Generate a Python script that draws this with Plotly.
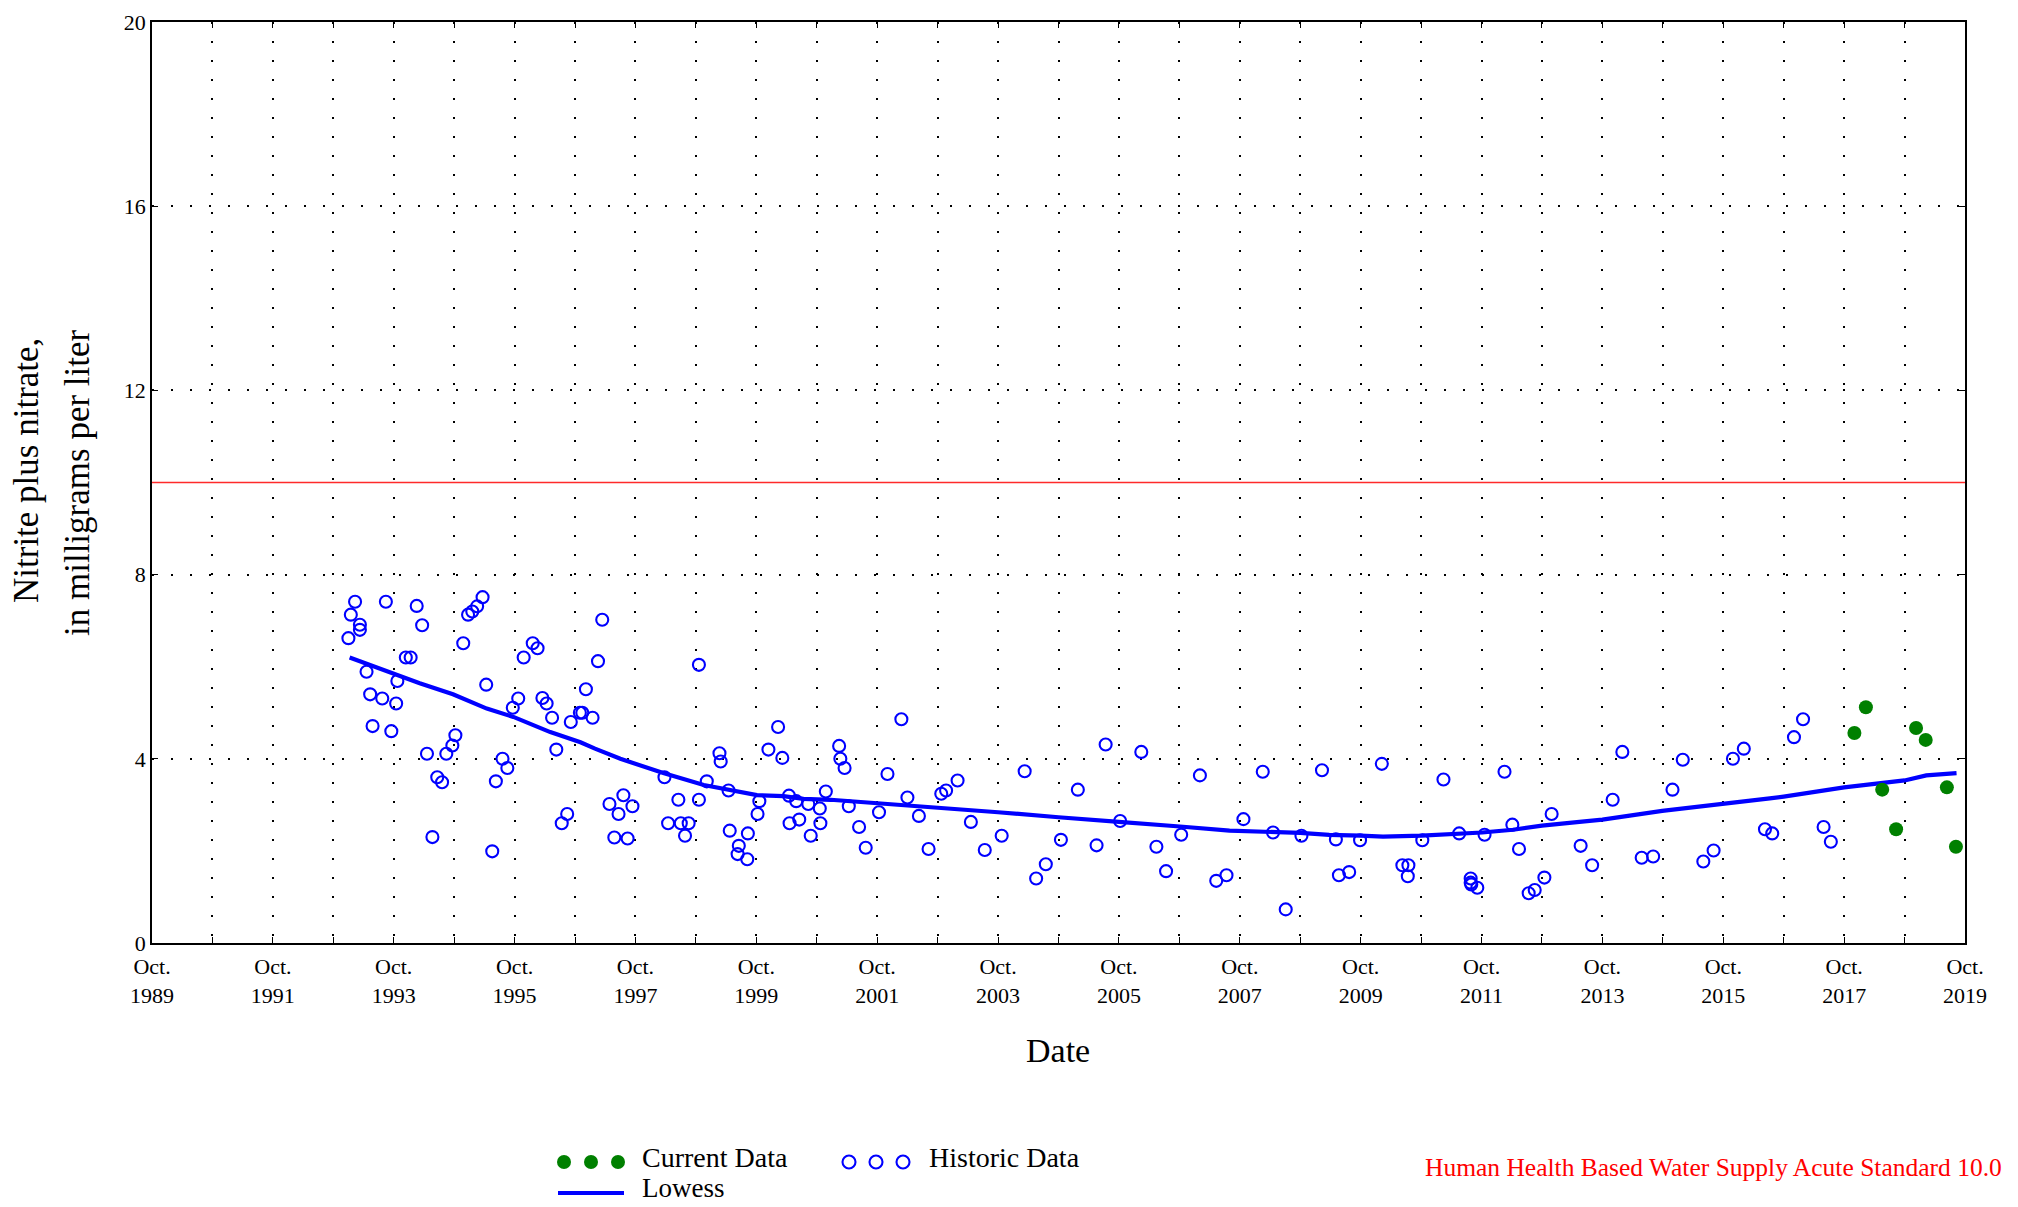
import plotly.graph_objects as go

# ---------------- data (decimal years, mg/L) ----------------
hist_t = [1993.00, 1993.04, 1993.11, 1993.19, 1993.19, 1993.30, 1993.36, 1993.40, 1993.56, 1993.62,
          1993.71, 1993.79, 1993.81, 1993.95, 1994.03, 1994.13, 1994.22, 1994.30, 1994.39, 1994.47,
          1994.55, 1994.62, 1994.72, 1994.77, 1994.90, 1994.98, 1995.05, 1995.13, 1995.22, 1995.28,
          1995.38, 1995.44, 1995.55, 1995.63, 1995.72, 1995.81, 1995.90, 1996.05, 1996.13, 1996.21,
          1996.28, 1996.37, 1996.44, 1996.53, 1996.62, 1996.68, 1996.83, 1996.87, 1996.93, 1997.04,
          1997.13, 1997.20, 1997.32, 1997.40, 1997.47, 1997.55, 1997.62, 1997.70, 1998.23, 1998.29,
          1998.46, 1998.50, 1998.57, 1998.63, 1998.80, 1998.80, 1998.93, 1999.14, 1999.16, 1999.29,
          1999.31, 1999.44, 1999.46, 1999.60, 1999.61, 1999.77, 1999.80, 1999.95, 2000.11, 2000.18,
          2000.29, 2000.30, 2000.41, 2000.46, 2000.61, 2000.65, 2000.80, 2000.81, 2000.90, 2001.12,
          2001.14, 2001.21, 2001.28, 2001.45, 2001.56, 2001.78, 2001.92, 2002.15, 2002.25, 2002.44,
          2002.60, 2002.81, 2002.89, 2003.08, 2003.30, 2003.53, 2003.81, 2004.19, 2004.38, 2004.54,
          2004.79, 2005.07, 2005.38, 2005.53, 2005.77, 2006.12, 2006.37, 2006.53, 2006.78, 2007.09,
          2007.36, 2007.53, 2007.81, 2008.13, 2008.30, 2008.51, 2008.77, 2009.11, 2009.34, 2009.39,
          2009.56, 2009.74, 2010.10, 2010.44, 2010.54, 2010.53, 2010.77, 2011.12, 2011.38, 2011.57,
          2011.57, 2011.58, 2011.68, 2011.80, 2012.13, 2012.26, 2012.37, 2012.53, 2012.63, 2012.79,
          2012.91, 2013.39, 2013.58, 2013.92, 2014.08, 2014.40, 2014.59, 2014.91, 2015.08, 2015.42,
          2015.59, 2015.91, 2016.09, 2016.44, 2016.56, 2016.92, 2017.07, 2017.41, 2017.53]
hist_v = [6.62, 7.13, 7.41, 6.91, 6.80, 5.89, 5.40, 4.71, 5.31, 7.41,
          4.60, 5.20, 5.69, 6.20, 6.20, 7.32, 6.90, 4.11, 2.30, 3.60,
          3.49, 4.11, 4.29, 4.51, 6.51, 7.13, 7.20, 7.31, 7.51, 5.61,
          1.99, 3.51, 4.00, 3.80, 5.11, 5.31, 6.20, 6.51, 6.40, 5.32,
          5.20, 4.89, 4.20, 2.60, 2.80, 4.80, 5.00, 5.00, 5.51, 4.89,
          6.12, 7.02, 3.02, 2.29, 2.80, 3.21, 2.27, 2.97, 3.60, 2.60,
          3.11, 2.60, 2.33, 2.60, 6.04, 3.11, 3.51, 4.12, 3.94, 3.31,
          2.44, 1.93, 2.11, 1.82, 2.38, 2.80, 3.08, 4.20, 4.69, 4.02,
          3.20, 2.60, 3.08, 2.68, 3.02, 2.33, 2.92, 2.60, 3.29, 4.28,
          4.00, 3.80, 2.97, 2.52, 2.07, 2.84, 3.67, 4.86, 3.16, 2.76,
          2.04, 3.24, 3.31, 3.53, 2.63, 2.02, 2.33, 3.73, 1.40, 1.71,
          2.24, 3.33, 2.12, 4.31, 2.65, 4.15, 2.09, 1.56, 2.35, 3.64,
          1.35, 1.47, 2.69, 3.72, 2.40, 0.73, 2.33, 3.75, 2.25, 1.47,
          1.54, 2.23, 3.89, 1.69, 1.69, 1.45, 2.23, 3.55, 2.38, 1.40,
          1.31, 1.27, 1.20, 2.35, 3.72, 2.57, 2.04, 1.08, 1.15, 1.42,
          2.80, 2.11, 1.69, 3.11, 4.15, 1.85, 1.88, 3.33, 3.98, 1.77,
          2.01, 4.00, 4.22, 2.47, 2.38, 4.47, 4.86, 2.52, 2.20]

cur_t = [2017.92, 2018.11, 2018.38, 2018.61, 2018.94, 2019.10, 2019.45, 2019.60]
cur_v = [4.56, 5.12, 3.33, 2.47, 4.67, 4.41, 3.38, 2.09]

lowess_t = [1993.02, 1993.35, 1993.79, 1994.18, 1994.73, 1995.29, 1995.73, 1996.34, 1996.84, 1997.08,
            1997.50, 1998.21, 1998.88, 1999.32, 1999.76, 2000.20, 2000.53, 2000.98, 2001.75, 2002.75,
            2003.75, 2004.75, 2005.10, 2005.75, 2006.76, 2007.58, 2008.75, 2009.23, 2009.75, 2010.12,
            2010.76, 2011.76, 2012.27, 2012.75, 2013.37, 2013.75, 2014.74, 2015.76, 2015.97, 2016.52,
            2016.75, 2017.07, 2017.45, 2017.75, 2018.75, 2019.11, 2019.61]
lowess_v = [6.20, 6.04, 5.83, 5.64, 5.40, 5.09, 4.91, 4.58, 4.36, 4.22,
            4.00, 3.69, 3.43, 3.31, 3.21, 3.19, 3.13, 3.11, 3.04, 2.93,
            2.84, 2.73, 2.69, 2.63, 2.53, 2.44, 2.39, 2.35, 2.33, 2.31,
            2.33, 2.40, 2.46, 2.55, 2.63, 2.68, 2.87, 3.02, 3.04, 3.14,
            3.18, 3.24, 3.33, 3.38, 3.53, 3.64, 3.69]

STANDARD = 10.0
x_tick_vals = [1989.75 + 2 * k for k in range(16)]
x_tick_text = ["Oct.<br>%d" % (1989 + 2 * k) for k in range(16)]
x_minor_vals = [1989.75 + k for k in range(31)]
y_tick_vals = [0, 4, 8, 12, 16, 20]

# ---------------- layout helpers (screen pixels) ----------------
W, H = 2018, 1207
L, R, T, B = 152, 1965, 22, 943          # plot area
FONT = "Liberation Serif, Times New Roman, serif"


def px(xp):
    return (xp - L) / (R - L)


def py(yp):
    return (B - yp) / (B - T)


fig = go.Figure()

fig.add_hline(y=STANDARD, line=dict(color="#ff2a2a", width=1.6), layer="above")

fig.add_trace(go.Scatter(x=hist_t, y=hist_v, mode="markers", name="Historic Data",
                         marker=dict(symbol="circle-open", size=12, color="#0000ff",
                                     line=dict(width=2.1, color="#0000ff"))))
fig.add_trace(go.Scatter(x=lowess_t, y=lowess_v, mode="lines", name="Lowess",
                         line=dict(color="#0000ff", width=4.2)))
fig.add_trace(go.Scatter(x=cur_t, y=cur_v, mode="markers", name="Current Data",
                         marker=dict(symbol="circle", size=14, color="#008000",
                                     line=dict(width=0))))

grid = dict(gridcolor="black", gridwidth=1.6, griddash="2px,17px")

fig.update_xaxes(range=[1989.75, 2019.75], tickmode="array", tickvals=x_tick_vals,
                 ticktext=x_tick_text, ticks="inside", ticklen=6, tickwidth=1.3,
                 tickcolor="black", showline=True, linecolor="black", linewidth=1.6,
                 mirror="ticks", showgrid=True, zeroline=False, automargin=False,
                 ticklabelstandoff=3,
                 tickfont=dict(family=FONT, size=22, color="black"),
                 minor=dict(tickmode="array", tickvals=x_minor_vals, ticks="inside",
                            ticklen=6, tickwidth=1.3, tickcolor="black", showgrid=True,
                            **grid),
                 **grid)
fig.update_yaxes(range=[0, 20], tickmode="array", tickvals=y_tick_vals,
                 ticks="inside", ticklen=6, tickwidth=1.3, tickcolor="black",
                 showline=True, linecolor="black", linewidth=1.6, mirror="ticks",
                 showgrid=True, zeroline=False, automargin=False,
                 tickfont=dict(family=FONT, size=22, color="black"), **grid)


def note(text, x, y, size, color="black", xanchor="left", angle=0):
    return dict(text=text, x=px(x), y=py(y), xref="paper", yref="paper", showarrow=False,
                xanchor=xanchor, yanchor="middle", textangle=angle,
                font=dict(family=FONT, size=size, color=color))


annotations = [
    note("Date", 1058, 1050, 34, xanchor="center"),
    note("Nitrite plus nitrate,", 26, 471, 35, xanchor="center", angle=-90),
    note("in milligrams per liter", 77, 483, 35, xanchor="center", angle=-90),
    note("Current Data", 640, 1157, 28),
    note("Historic Data", 927, 1157, 28),
    note("Lowess", 640, 1188, 27),
    note("Human Health Based Water Supply Acute Standard 10.0", 2004, 1167, 25.5,
         color="#ff0000", xanchor="right"),
]

shapes = []
for cx in (564, 591, 618):
    shapes.append(dict(type="circle", xref="paper", yref="paper", xsizemode="pixel",
                       ysizemode="pixel", xanchor=px(cx), yanchor=py(1162),
                       x0=-7, x1=7, y0=-7, y1=7, fillcolor="#008000",
                       line=dict(width=0)))
for cx in (849, 876, 903):
    shapes.append(dict(type="circle", xref="paper", yref="paper", xsizemode="pixel",
                       ysizemode="pixel", xanchor=px(cx), yanchor=py(1162),
                       x0=-6.5, x1=6.5, y0=-6.5, y1=6.5, fillcolor="rgba(0,0,0,0)",
                       line=dict(width=2.1, color="#0000ff")))
shapes.append(dict(type="line", xref="paper", yref="paper", x0=px(558), x1=px(624),
                   y0=py(1193), y1=py(1193), line=dict(color="#0000ff", width=4.2)))

fig.update_layout(width=W, height=H,
                  margin=dict(l=L, r=W - R, t=T, b=H - B, pad=0),
                  paper_bgcolor="white", plot_bgcolor="white", showlegend=False,
                  annotations=annotations, shapes=fig.layout.shapes + tuple(shapes),
                  font=dict(family=FONT, color="black"))

# remove the browser's default 8px body margin so the figure sits at the page origin
fig.write_html("out.html", config={"displayModeBar": False},
               post_script="document.body.style.margin='0';document.body.style.overflow='hidden';")
